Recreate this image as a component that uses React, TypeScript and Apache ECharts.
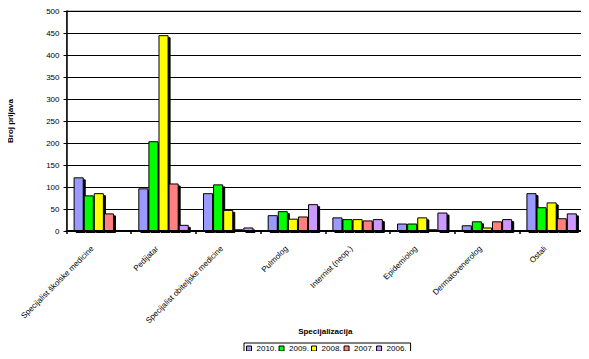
import React, { useEffect, useRef } from "react";
import * as echarts from "echarts";

const categories = [
  "Specijalist školske medicine",
  "Pedijatar",
  "Specijalist obiteljske medicine",
  "Pulmolog",
  "Internist (neop.)",
  "Epidemiolog",
  "Dermatovenerolog",
  "Ostali",
];
const years = ["2010.", "2009.", "2008.", "2007.", "2006."];
const s2010 = [122, 97, 86, 36, 31, 17, 13, 86];
const s2009 = [81, 204, 106, 45, 27, 17, 22, 54];
const s2008 = [86, 445, 48, 28, 27, 31, 8, 65];
const s2007 = [40, 108, 4, 33, 24, 4, 22, 29];
const s2006 = [1, 14, 8, 61, 27, 42, 27, 40];
const seriesData = [s2010, s2009, s2008, s2007, s2006];
const colors = ["#9999FF", "#00FF00", "#FFFF00", "#FF8080", "#CC99FF"];

export default function App() {
  const ref = useRef<HTMLDivElement>(null);
  useEffect(() => {
    if (!ref.current) return;
    const chart = echarts.init(ref.current, null, { renderer: "svg" });
    const font = "Liberation Sans, Arial, sans-serif";
    chart.setOption({
      animation: false,
      backgroundColor: "#fff",
      textStyle: { fontFamily: font },
      grid: {
        left: 66.5,
        right: 5,
        top: 11,
        bottom: 128,
        show: true,
        borderColor: "#808080",
        borderWidth: 1,
        outerBoundsMode: "none",
        containLabel: false,
      },
      graphic: [
        {
          type: "text",
          x: 10,
          y: 121,
          rotation: Math.PI / 2,
          style: {
            text: "Broj prijava",
            fontSize: 8,
            fontWeight: "bold",
            fontFamily: font,
            fill: "#000",
            align: "center",
            verticalAlign: "middle",
          },
        },
      ],
      legend: {
        left: 244,
        top: 343,
        icon: "rect",
        itemWidth: 5,
        itemHeight: 5,
        itemGap: 2,
        padding: [1, 4, 1, 2],
        borderColor: "#000",
        borderWidth: 1,
        textStyle: { fontSize: 8, color: "#000", fontFamily: font, lineHeight: 9 },
        data: years.map((y, i) => ({
          name: y,
          itemStyle: { color: colors[i], borderColor: "#000", borderWidth: 1 },
        })),
      },
      xAxis: {
        type: "category",
        data: categories,
        name: "Specijalizacija",
        nameLocation: "middle",
        nameGap: 96,
        nameMoveOverlap: false,
        nameTextStyle: { fontSize: 8, fontWeight: "bold", color: "#000" },
        axisLine: { lineStyle: { color: "#000", width: 2 } },
        axisTick: { show: true, length: 3, lineStyle: { color: "#000", width: 1.5 } },
        axisLabel: {
          rotate: 45,
          fontSize: 8,
          color: "#000",
          margin: 10,
          padding: [0, 9, 0, 0],
          interval: 0,
        },
      },
      yAxis: {
        type: "value",
        min: 0,
        max: 500,
        interval: 50,
        axisLine: { show: true, lineStyle: { color: "#000", width: 1.5 } },
        axisTick: { show: true, length: 3, lineStyle: { color: "#000" } },
        axisLabel: { fontSize: 8, color: "#000", margin: 7 },
        splitLine: { lineStyle: { color: "#000", width: 1 } },
      },
      series: seriesData.map((d, i) => ({
        name: years[i],
        type: "bar",
        data: d,
        barGap: "0%",
        barCategoryGap: "22%",
        itemStyle: {
          color: colors[i],
          borderColor: "#000",
          borderWidth: 1,
          shadowColor: "#000",
          shadowOffsetX: 2,
          shadowOffsetY: 2,
          shadowBlur: 0,
        },
      })),
    });
    return () => chart.dispose();
  }, []);
  return <div ref={ref} style={{ width: 589, height: 359, margin: -8 }} />;
}
